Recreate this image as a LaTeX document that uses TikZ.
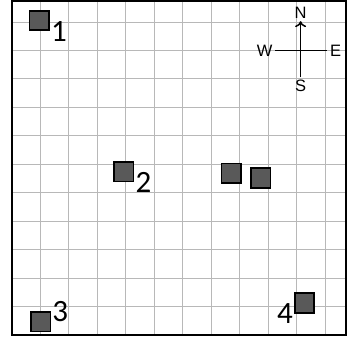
\documentclass[tikz,border=0pt]{standalone}
\usepackage{fontspec}
\setmainfont{Carlito}
\newfontfamily\cmpfont{Liberation Sans}
\usetikzlibrary{arrows.meta,positioning}
\definecolor{grd}{HTML}{B8B8B8}
\definecolor{blkfill}{HTML}{595959}
\tikzset{
  gridln/.style={draw=grd,line width=0.9pt},
  frm/.style={draw=black,line width=2pt},
  blk/.style={draw=black,line width=1.6pt,fill=blkfill,minimum size=19.5pt,inner sep=0pt},
  num/.style={inner sep=1pt,font=\fontsize{31}{32}\selectfont},
  dir/.style={inner sep=2.5pt,font=\cmpfont\fontsize{16.5}{18}\selectfont},
  ar/.style={-{To[length=6pt,width=11pt]},line width=1.5pt},
}

\begin{document}
\begin{tikzpicture}[x=27.83pt,y=27.83pt]
  \useasboundingbox (-0.431,-0.072) rectangle (12.037,12.037);
  \draw[gridln] (0,0) grid (12,12);
  \draw[frm] (0,0) rectangle (12,12);
  % numbered blocks
  \node[blk] (b1) at (0.98,11.30) {};
  \node[blk] (b2) at (4.02,5.87) {};
  \node[blk] (b3) at (1.03,0.47) {};
  \node[blk] (b4) at (10.51,1.15) {};
  \node[blk] (b5) at (7.88,5.81) {};
  \node[blk] (b6) at (8.94,5.64) {};
  \node[num, anchor=west] (l1) at (b1.south east) {1};
  \node[num, anchor=west] (l2) at (b2.south east) {2};
  \node[num, anchor=west] (l3) at (b3.north east) {3};
  \node[num, anchor=east] (l4) at (b4.south west) {4};
  % compass
  \node[dir] (cn) at (10.37,11.577) {N};
  \node[dir] (cs) at (10.37,8.953) {S};
  \node[dir] (cw) at (9.08,10.216) {W};
  \node[dir] (ce) at (11.63,10.216) {E};
  \draw[ar] (cs) -- (cn);
  \draw[line width=1.5pt] (cw) -- (ce);
\end{tikzpicture}
\end{document}
